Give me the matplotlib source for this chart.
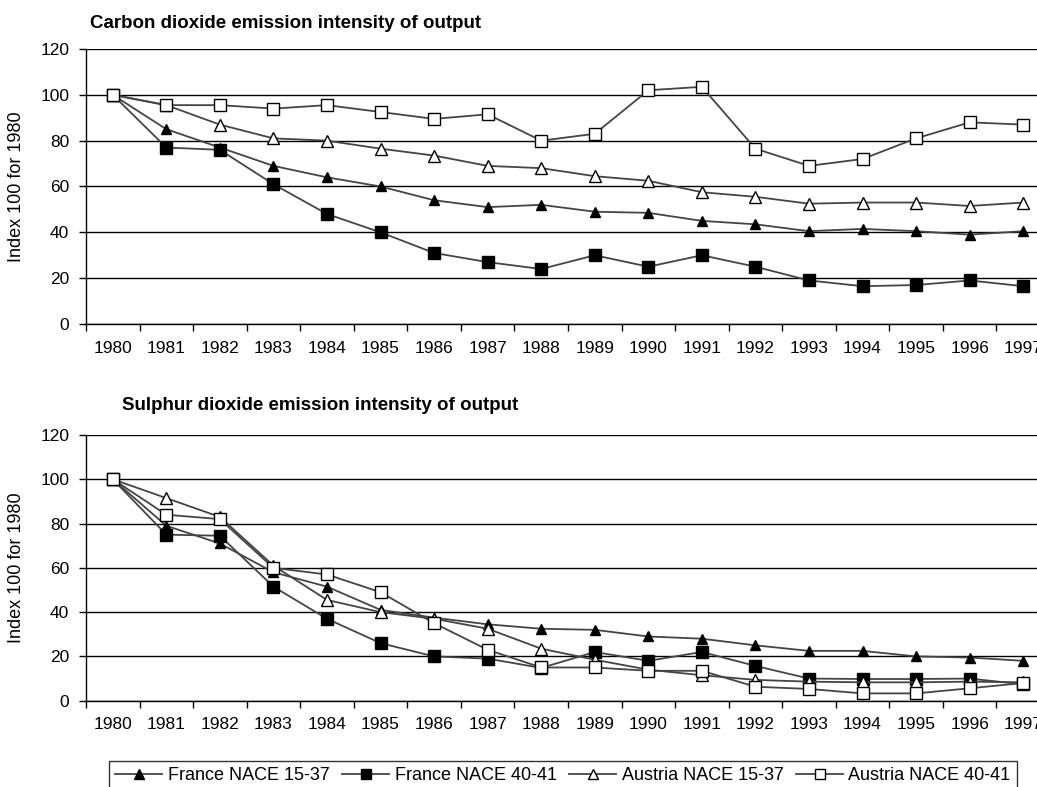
import numpy as np
import matplotlib
matplotlib.use("Agg")
import matplotlib.pyplot as plt

plt.rcParams['font.family'] = ['Liberation Sans', 'DejaVu Sans']

years = [str(y) for y in range(1980, 1998)]

# Carbon dioxide emission intensity of output (index 1980 = 100)
co2_fr_manuf = [100, 85, 77, 69, 64, 60, 54, 51, 52, 49, 48.5, 45, 43.5, 40.5, 41.5, 40.5, 39, 40.5]
co2_fr_energy = [100, 77, 76, 61, 48, 40, 31, 27, 24, 30, 25, 30, 25, 19, 16.5, 17, 19, 16.5]
co2_at_manuf = [100, 95.5, 87, 81, 80, 76.5, 73.5, 69, 68, 64.5, 62.5, 57.5, 55.5, 52.5, 53, 53, 51.5, 53]
co2_at_energy = [100, 95.5, 95.5, 94, 95.5, 92.5, 89.5, 91.5, 80, 83, 102, 103.5, 76.5, 69, 72, 81, 88, 87]

# Sulphur dioxide emission intensity of output (index 1980 = 100)
so2_fr_manuf = [100, 79, 71, 58, 51.5, 41, 37.5, 34.5, 32.5, 32, 29, 28, 25, 22.5, 22.5, 20, 19.5, 18]
so2_fr_energy = [100, 75, 74.5, 51.5, 37, 26, 20, 19, 14.8, 22, 18, 22, 15.7, 10, 9.8, 9.8, 10, 7.4]
so2_at_manuf = [100, 91.5, 83, 61, 45.5, 40, 37, 32.5, 23.5, 18.5, 14, 11.5, 9.4, 8.6, 8.3, 8.3, 8.6, 8.3]
so2_at_energy = [100, 84, 82, 60, 57, 49, 35, 23, 15, 15, 13.5, 13.5, 6.3, 5.3, 3.3, 3.3, 5.6, 8]

labels = ['France NACE 15-37', 'France NACE 40-41', 'Austria NACE 15-37', 'Austria NACE 40-41']
styles = [
    dict(marker='^', markerfacecolor='black', markersize=7.5),
    dict(marker='s', markerfacecolor='black', markersize=8.5),
    dict(marker='^', markerfacecolor='white', markersize=8),
    dict(marker='s', markerfacecolor='white', markersize=8.5),
]

W, H = 1037, 787


def draw_panel(ax, series):
    x = np.arange(len(years))
    handles = []
    for vals, st, lab in zip(series, styles, labels):
        h, = ax.plot(x, vals, color='#444444', linewidth=1.3,
                     markeredgecolor='black', markeredgewidth=1.0,
                     label=lab, clip_on=False, zorder=3, **st)
        handles.append(h)
    ax.set_xlim(-0.5, len(years) - 0.5)
    ax.set_ylim(0, 120)
    ax.set_yticks(range(0, 121, 20))
    ax.yaxis.grid(True, color='black', linewidth=1.0)
    ax.set_axisbelow(True)
    ax.set_xticks(x)
    ax.set_xticklabels(years)
    ax.set_xticks(np.arange(-0.5, len(years), 1), minor=True)
    ax.tick_params(axis='x', which='major', length=0, pad=12, labelsize=12.5)
    ax.tick_params(axis='x', which='minor', length=5, width=1, direction='out')
    ax.tick_params(axis='y', length=5, width=1, pad=7, labelsize=12.5)
    for s in ['top', 'right']:
        ax.spines[s].set_visible(False)
    for s in ['left', 'bottom']:
        ax.spines[s].set_linewidth(1.0)
        ax.spines[s].set_color('black')
    ax.set_ylabel('Index 100 for 1980', fontsize=13)
    ax.yaxis.set_label_coords(-0.063, 0.5)
    return handles


fig = plt.figure(figsize=(W / 100, H / 100), dpi=100)
ax1 = fig.add_axes([86 / W, 1 - 324 / H, 964 / W, 275 / H])
ax2 = fig.add_axes([86 / W, 1 - 700.7 / H, 964 / W, 265.7 / H])

draw_panel(ax1, [co2_fr_manuf, co2_fr_energy, co2_at_manuf, co2_at_energy])
handles = draw_panel(ax2, [so2_fr_manuf, so2_fr_energy, so2_at_manuf, so2_at_energy])

fig.text(90 / W, 1 - 23 / H, 'Carbon dioxide emission intensity of output',
         fontsize=13.5, fontweight='bold', va='center', ha='left')
fig.text(122 / W, 1 - 405 / H, 'Sulphur dioxide emission intensity of output',
         fontsize=13.5, fontweight='bold', va='center', ha='left')

leg = fig.legend(handles=handles, loc='upper center', bbox_to_anchor=(563 / W, 1 - 761 / H),
                 ncol=4, frameon=True, fancybox=False, edgecolor='black',
                 fontsize=13, handlelength=2.6, handletextpad=0.3, columnspacing=0.7,
                 borderpad=0.35, borderaxespad=0)
leg.get_frame().set_linewidth(1.0)
for h in leg.legend_handles:
    h.set_markersize(7)

fig.savefig('out.png', dpi=100)
